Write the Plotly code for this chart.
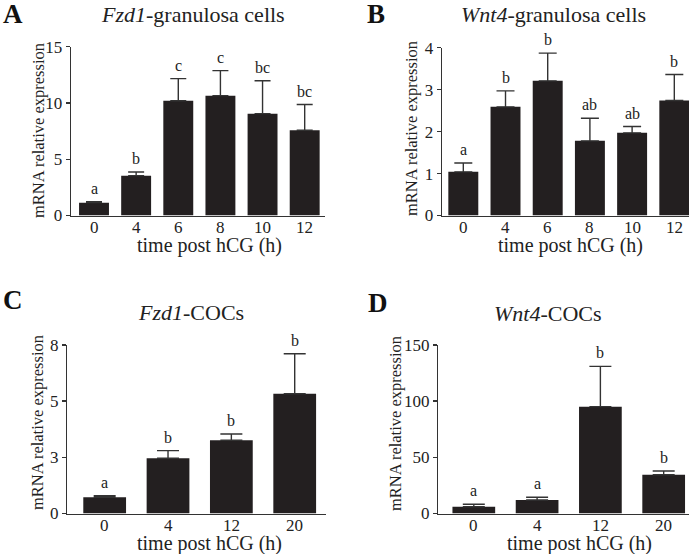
import plotly.graph_objects as go

W, H = 697, 554

# ---------------- data ----------------
gc_times = ["0", "4", "6", "8", "10", "12"]
coc_times = ["0", "4", "12", "20"]

fzd1_gc_mean = [1.14, 3.54, 10.2, 10.65, 9.05, 7.57]
fzd1_gc_err = [0.09, 0.33, 1.96, 2.22, 2.93, 2.29]
fzd1_gc_letters = ["a", "b", "c", "c", "bc", "bc"]

wnt4_gc_mean = [1.04, 2.59, 3.21, 1.78, 1.97, 2.74]
wnt4_gc_err = [0.21, 0.38, 0.66, 0.54, 0.15, 0.62]
wnt4_gc_letters = ["a", "b", "b", "ab", "ab", "b"]

fzd1_coc_mean = [0.72, 2.46, 3.26, 5.33]
fzd1_coc_err = [0.07, 0.34, 0.28, 1.78]
fzd1_coc_letters = ["a", "b", "b", "b"]
fzd1_coc_ticks = [0, 2.5, 5, 7.5]
fzd1_coc_ticktext = ["0", "3", "5", "8"]

wnt4_coc_mean = [6.0, 12.0, 95.1, 34.5]
wnt4_coc_err = [2.2, 2.4, 35.9, 3.3]
wnt4_coc_letters = ["a", "a", "b", "b"]

FONT = "Liberation Serif"
BAR = "#231f20"
AX = "#333333"


def P(x, y):
    return x / W, 1 - y / H


fig = go.Figure()

panels = [
    dict(n="", mean=fzd1_gc_mean, err=fzd1_gc_err, let=fzd1_gc_letters, cats=gc_times,
         xd=(71, 325), yd=(215.5, 46.7), xr=[-0.546, 5.482], yr=[0, 15],
         tv=[0, 5, 10, 15], tt=["0", "5", "10", "15"], bw=0.71, cap=8),
    dict(n="2", mean=wnt4_gc_mean, err=wnt4_gc_err, let=wnt4_gc_letters, cats=gc_times,
         xd=(442, 689), yd=(215.5, 47.7), xr=[-0.505, 5.348], yr=[0, 4],
         tv=[0, 1, 2, 3, 4], tt=["0", "1", "2", "3", "4"], bw=0.71, cap=9),
    dict(n="3", mean=fzd1_coc_mean, err=fzd1_coc_err, let=fzd1_coc_letters, cats=coc_times,
         xd=(67.3, 326), yd=(513.5, 345), xr=[-0.59, 3.494], yr=[0, 7.5],
         tv=fzd1_coc_ticks, tt=fzd1_coc_ticktext, bw=0.675, cap=11),
    dict(n="4", mean=wnt4_coc_mean, err=wnt4_coc_err, let=wnt4_coc_letters, cats=coc_times,
         xd=(438.3, 689), yd=(513.5, 345), xr=[-0.561, 3.4], yr=[0, 150],
         tv=[0, 50, 100, 150], tt=["0", "50", "100", "150"], bw=0.675, cap=11),
]

layout = dict(
    width=W, height=H, margin=dict(l=0, r=0, t=0, b=0, pad=0, autoexpand=False),
    paper_bgcolor="white", plot_bgcolor="white", showlegend=False,
    font=dict(family=FONT, color="#222"),
)
annotations = []

for p in panels:
    n = p["n"]
    xs = list(range(len(p["cats"])))
    fig.add_trace(go.Bar(
        x=xs, y=p["mean"], width=p["bw"], marker=dict(color=BAR, line=dict(width=0)),
        error_y=dict(type="data", array=p["err"], arrayminus=[0] * len(xs), symmetric=False,
                     color=AX, thickness=1.4, width=p["cap"]),
        xaxis="x" + n, yaxis="y" + n, hoverinfo="skip",
    ))
    x0, _ = P(p["xd"][0], 0)
    x1, _ = P(p["xd"][1], 0)
    _, yb = P(0, p["yd"][0])
    _, yt = P(0, p["yd"][1])
    layout["xaxis" + n] = dict(
        domain=[x0, x1], range=p["xr"], anchor="y" + n, automargin=False,
        tickmode="array", tickvals=xs, ticktext=p["cats"], ticks="", showticklabels=False,
        showline=True, linecolor=AX, linewidth=1.4, showgrid=False, zeroline=False,
        fixedrange=True,
    )
    layout["yaxis" + n] = dict(
        domain=[yb, yt], range=p["yr"], anchor="x" + n, automargin=False,
        tickmode="array", tickvals=p["tv"], ticktext=p["tt"], ticks="outside",
        ticklen=4, tickwidth=1.4, tickcolor=AX,
        showline=True, linecolor=AX, linewidth=1.4, showgrid=False, zeroline=False,
        tickfont=dict(size=17, family=FONT, color="#222"), fixedrange=True,
    )
    for xi, c in zip(xs, p["cats"]):
        annotations.append(dict(
            x=xi, y=0, xref="x" + n, yref="y" + n, text=c, showarrow=False,
            yanchor="top", yshift=0, font=dict(size=17, family=FONT, color="#222"),
        ))
    for xi, m, e, l in zip(xs, p["mean"], p["err"], p["let"]):
        annotations.append(dict(
            x=xi, y=m + e, xref="x" + n, yref="y" + n, text=l, showarrow=False,
            yanchor="bottom", yshift=3, font=dict(size=16, family=FONT, color="#222"),
        ))

# panel letters
for txt, (px, py) in [("A", (13, 14)), ("B", (375.5, 14)), ("C", (12.5, 300)), ("D", (378, 303))]:
    x, y = P(px, py)
    annotations.append(dict(x=x, y=y, xref="paper", yref="paper", text="<b>" + txt + "</b>",
                            showarrow=False, xanchor="center", yanchor="middle",
                            font=dict(size=27, family=FONT, color="#111")))

# titles
for txt, (px, py) in [("<i>Fzd1</i>-granulosa cells", (193, 14)),
                      ("<i>Wnt4</i>-granulosa cells", (553.5, 14)),
                      ("<i>Fzd1</i>-COCs", (190.5, 312.5)),
                      ("<i>Wnt4</i>-COCs", (548, 313))]:
    x, y = P(px, py)
    annotations.append(dict(x=x, y=y, xref="paper", yref="paper", text=txt, showarrow=False,
                            xanchor="center", yanchor="middle",
                            font=dict(size=22, family=FONT, color="#222")))

# y titles
for (px, py) in [(38, 131), (411, 129), (37, 423), (395, 424)]:
    x, y = P(px, py)
    annotations.append(dict(x=x, y=y, xref="paper", yref="paper", text="mRNA relative expression",
                            showarrow=False, textangle=-90, xanchor="center", yanchor="middle",
                            font=dict(size=16.5, family=FONT, color="#222")))

# x titles
for (px, py) in [(209, 245), (570.5, 245), (209, 543), (579, 543)]:
    x, y = P(px, py)
    annotations.append(dict(x=x, y=y, xref="paper", yref="paper", text="time post hCG (h)",
                            showarrow=False, xanchor="center", yanchor="middle",
                            font=dict(size=20, family=FONT, color="#222")))

layout["annotations"] = annotations
fig.update_layout(**layout)
fig.write_html(
    "out.html",
    config={"displayModeBar": False, "staticPlot": True},
    post_script="document.body.style.margin='0';document.body.style.padding='0';"
                "document.body.style.overflow='hidden';",
)
